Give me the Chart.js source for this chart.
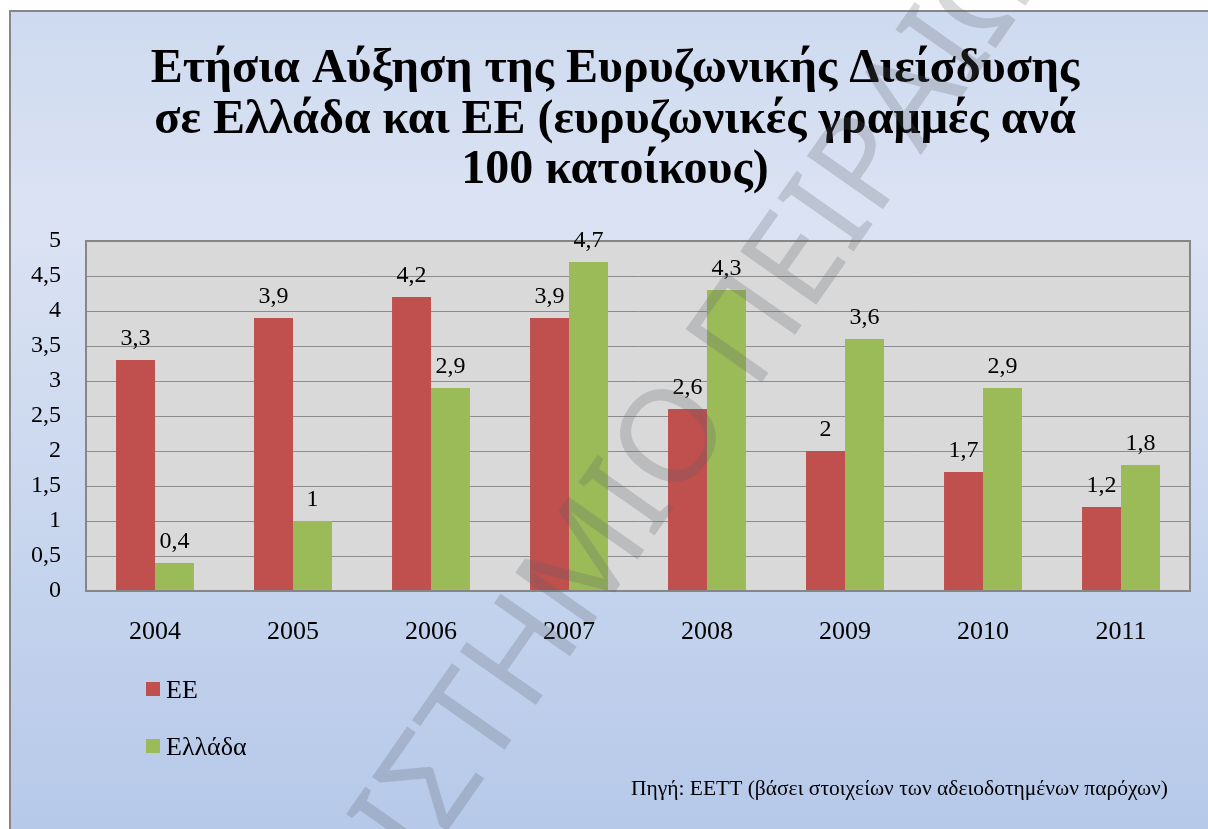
<!DOCTYPE html>
<html>
<head>
<meta charset="utf-8">
<script src="https://cdn.jsdelivr.net/npm/chart.js@4.4.1/dist/chart.umd.min.js"></script>
<style>
  html, body { margin: 0; padding: 0; background: #fff; }
  #grafico { display: block; }
</style>
</head>
<body>
<canvas id="grafico" width="1208" height="829"></canvas>
<script>
const anos = ['2004', '2005', '2006', '2007', '2008', '2009', '2010', '2011'];
const valoresEE = [3.3, 3.9, 4.2, 3.9, 2.6, 2, 1.7, 1.2];
const valoresEllada = [0.4, 1, 2.9, 4.7, 4.3, 3.6, 2.9, 1.8];
const nomesSeries = ['ΕΕ', 'Ελλάδα'];
const yMin = 0;
const yMax = 5;
const yPasso = 0.5;
const titulo = [
  'Ετήσια Αύξηση της Ευρυζωνικής Διείσδυσης',
  'σε Ελλάδα και ΕΕ (ευρυζωνικές γραμμές ανά',
  '100 κατοίκους)'
];
const fonte = 'Πηγή: ΕΕΤΤ (βάσει στοιχείων των αδειοδοτημένων παρόχων)';
const marcaDagua = 'ΠΑΝΕΠΙΣΤΗΜΙΟ ΠΕΙΡΑΙΩΣ';

const serif = "'Liberation Serif', 'Times New Roman', serif";
const cores = ['#c0504d', '#9bbb59'];

const virgula = v => String(v).replace('.', ',');

// fundo, titulo, legenda, rotulos
const desenhos = {
  id: 'desenhos',
  beforeDraw(chart) {
    const c = chart.ctx;
    const a = chart.chartArea;
    c.save();
    c.fillStyle = '#fff';
    c.fillRect(0, 0, chart.width, chart.height);
    const g = c.createLinearGradient(0, 11, 0, chart.height);
    g.addColorStop(0, '#cedaf0');
    g.addColorStop(0.25, '#dbe3f3');
    g.addColorStop(1, '#b6c9e9');
    c.fillStyle = g;
    c.fillRect(10, 11, chart.width, chart.height);
    c.strokeStyle = '#878787';
    c.lineWidth = 2;
    c.strokeRect(10, 11, chart.width + 10, chart.height + 10);
    c.fillStyle = '#d9d9d9';
    c.fillRect(a.left, a.top, a.right - a.left, a.bottom - a.top);

    c.fillStyle = '#000';
    c.textAlign = 'center';
    c.textBaseline = 'alphabetic';
    c.font = 'bold 48px ' + serif;
    titulo.forEach((linha, i) => c.fillText(linha, 615, 82 + i * 50.5));
    c.restore();
  },
  afterDatasetsDraw(chart) {
    const c = chart.ctx;
    const a = chart.chartArea;
    c.save();
    c.strokeStyle = '#868686';
    c.lineWidth = 2;
    c.strokeRect(a.left, a.top, a.right - a.left, a.bottom - a.top);

    c.fillStyle = '#000';
    c.font = '24px ' + serif;
    c.textAlign = 'center';
    c.textBaseline = 'alphabetic';
    chart.data.datasets.forEach((ds, i) => {
      chart.getDatasetMeta(i).data.forEach((bar, j) => {
        c.fillText(virgula(ds.data[j]), bar.x, bar.y - 15);
      });
    });

    // legenda vertical
    c.font = '26px ' + serif;
    c.textAlign = 'left';
    chart.data.datasets.forEach((ds, i) => {
      const y = 698 + i * 57;
      c.fillStyle = ds.backgroundColor;
      c.fillRect(146, y - 16, 14, 14);
      c.fillStyle = '#000';
      c.fillText(ds.label, 166, y);
    });

    c.font = '21.5px ' + serif;
    c.textAlign = 'right';
    c.fillText(fonte, 1168, 795);
    c.restore();
  },
  afterDraw(chart) {
    // marca d'agua diagonal
    const c = chart.ctx;
    c.save();
    c.font = "130px 'Noto Sans', 'DejaVu Sans', sans-serif";
    const ang = -55 * Math.PI / 180;
    const antes = c.measureText('ΠΑΝΕΠΙΣΤΗΜΙ').width;
    const larguraO = c.measureText('Ο').width;
    const dx = Math.cos(ang), dy = Math.sin(ang);
    const off = antes + larguraO / 2;
    c.translate(706 - dx * off, 462 - dy * off);
    c.rotate(ang);
    c.fillStyle = 'rgba(90, 95, 105, 0.24)';
    c.textBaseline = 'alphabetic';
    c.textAlign = 'left';
    c.fillText(marcaDagua, 0, 0);
    c.restore();
  }
};

const ctx = document.getElementById('grafico').getContext('2d');

const grafico = new Chart(ctx, {
  type: 'bar',
  data: {
    labels: anos,
    datasets: [
      { label: nomesSeries[0], data: valoresEE, backgroundColor: cores[0] },
      { label: nomesSeries[1], data: valoresEllada, backgroundColor: cores[1] }
    ]
  },
  options: {
    responsive: false,
    devicePixelRatio: 1,
    animation: false,
    layout: { padding: { left: 0, top: 241, right: 18, bottom: 0 } },
    datasets: {
      bar: { categoryPercentage: 0.565, barPercentage: 1 }
    },
    plugins: {
      legend: { display: false },
      title: { display: false },
      tooltip: { enabled: false }
    },
    scales: {
      x: {
        afterFit: s => { s.height = 238; },
        grid: { display: false },
        border: { color: '#868686', width: 2 },
        ticks: { color: '#000', font: { family: serif, size: 26 }, padding: 18, maxRotation: 0 }
      },
      y: {
        min: yMin,
        max: yMax,
        afterFit: s => { s.width = 86; },
        grid: { color: '#8c8c8c', lineWidth: 1, drawTicks: false },
        border: { color: '#868686', width: 2 },
        ticks: {
          stepSize: yPasso,
          color: '#000',
          padding: 25,
          font: { family: serif, size: 24 },
          callback: v => virgula(v)
        }
      }
    }
  },
  plugins: [desenhos]
});
</script>
</body>
</html>
